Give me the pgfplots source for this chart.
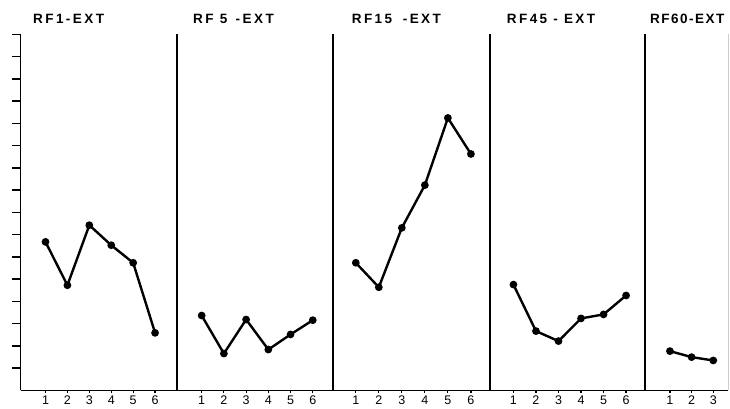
\documentclass[border=0pt]{standalone}
\usepackage{pgfplots}
\pgfplotsset{compat=1.18}
\usepackage{fontspec}
\setmainfont{Liberation Sans}
\newfontfamily\titlefont[LetterSpace=18]{Liberation Sans}
\newfontfamily\titlefontn[LetterSpace=11]{Liberation Sans}
\pgfplotsset{
  panel/.style={
    scale only axis, height=356pt, ymin=0, ymax=16,
    axis x line*=bottom, axis y line*=left,
    axis line style={line width=1.8pt, -, black},
    ytick=\empty, xtick={1,...,6},
    x tick style={line width=1.2pt, black},
    major tick length=3pt, tick align=outside, xtick pos=bottom,
    xticklabel style={font=\fontsize{12.5}{12.5}\selectfont, yshift=1.5pt},
    /pgf/number format/assume math mode=true,
    clip=false,
  },
  series/.style={black, line width=2.4pt, mark=*, mark size=2.6pt, mark options={solid, fill=black}},
}
\begin{document}
\begin{tikzpicture}
\useasboundingbox (0,0) rectangle (730pt,409pt);
% Panel 1
\begin{axis}[panel, at={(20.5pt,18.5pt)}, anchor=south west, width=156.5pt,
  xmin=-0.14, xmax=7.0]
\addplot[series] coordinates {(1,6.68) (2,4.73) (3,7.43) (4,6.53) (5,5.74) (6,2.59)};
\end{axis}
% Panel 1 y ticks
\begin{axis}[scale only axis, height=356pt, width=156.5pt, at={(20.5pt,18.5pt)}, anchor=south west,
  ymin=0, ymax=16, xmin=0, xmax=1, axis x line=none, axis y line*=left,
  axis line style={line width=1.8pt, -, black},
  ytick={1,...,16}, yticklabels={}, xtick=\empty, ytick pos=left,
  major tick length=8pt, tick align=outside,
  y tick style={line width=1.5pt, black}]
\end{axis}
% Panel 2
\begin{axis}[panel, at={(177pt,18.5pt)}, anchor=south west, width=156pt,
  xmin=-0.11, xmax=6.91]
\addplot[series] coordinates {(1,3.37) (2,1.66) (3,3.19) (4,1.84) (5,2.52) (6,3.16)};
\end{axis}
% Panel 3
\begin{axis}[panel, at={(333pt,18.5pt)}, anchor=south west, width=157pt,
  xmin=0.01, xmax=6.83]
\addplot[series] coordinates {(1,5.74) (2,4.64) (3,7.31) (4,9.23) (5,12.25) (6,10.63)};
\end{axis}
% Panel 4
\begin{axis}[panel, at={(490pt,18.5pt)}, anchor=south west, width=155pt,
  xmin=-0.04, xmax=6.84]
\addplot[series] coordinates {(1,4.76) (2,2.67) (3,2.22) (4,3.24) (5,3.42) (6,4.27)};
\end{axis}
% Panel 5
\begin{axis}[panel, at={(645pt,18.5pt)}, anchor=south west, width=83pt,
  xmin=-0.15, xmax=3.68, xtick={1,2,3}]
\addplot[series] coordinates {(1,1.77) (2,1.50) (3,1.35)};
\draw[gray!40, line width=0.6pt] (rel axis cs:1,0) -- (rel axis cs:1,1);
\end{axis}
% Titles
\begin{scope}[every node/.style={anchor=west, inner sep=0pt, font=\titlefont\bfseries\fontsize{13.5}{14}\selectfont}]
\node at (33pt,390.3pt) {RF1-EXT};
\node at (193pt,390.3pt) {RF 5\, -EXT};
\node at (351.7pt,390.3pt) {RF15\,\, -EXT};
\node at (506.7pt,390.3pt) {RF45 - EXT};
\node[font=\titlefontn\bfseries\fontsize{13.5}{14}\selectfont] at (650pt,390.3pt) {RF60-EXT};
\end{scope}
\end{tikzpicture}
\end{document}
